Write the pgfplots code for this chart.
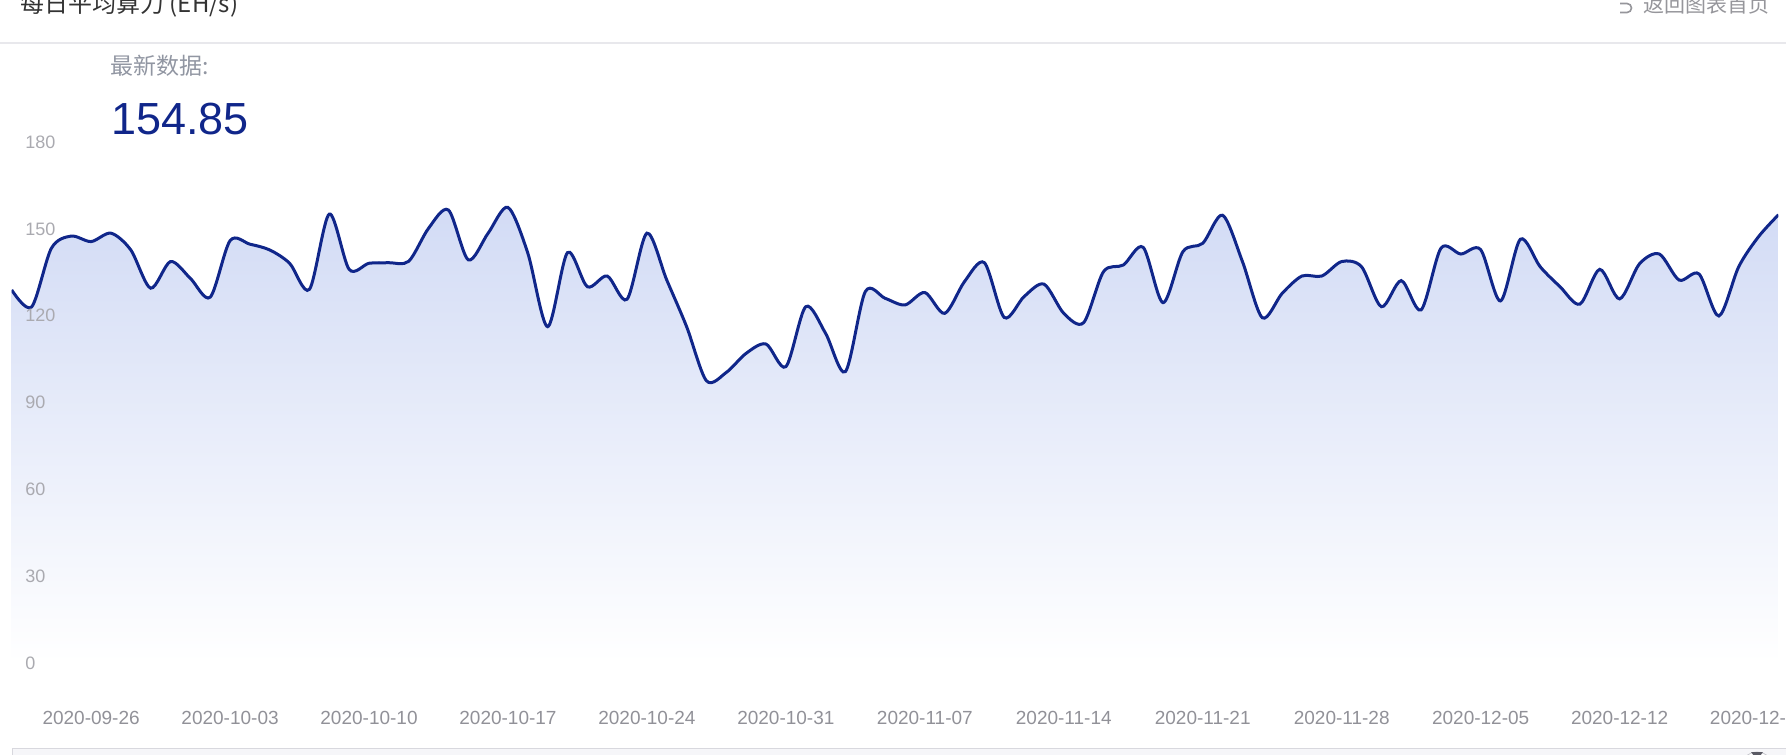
\documentclass[border=0pt]{standalone}
\usepackage{fontspec}
\setmainfont{Liberation Sans}
\newfontfamily\cjk{Noto Sans CJK SC}
\usepackage{pgfplots}
\pgfplotsset{compat=1.18}

\definecolor{linecol}{RGB}{16,38,138}
\definecolor{filltop}{RGB}{210,219,245}
\definecolor{ytickcol}{RGB}{170,170,176}
\definecolor{xtickcol}{RGB}{145,145,152}
\definecolor{subcol}{RGB}{145,150,162}
\definecolor{titlecol}{RGB}{51,51,51}
\definecolor{sepcol}{RGB}{232,232,236}
\definecolor{backcol}{RGB}{150,150,155}
\definecolor{zoomline}{RGB}{216,216,222}
\definecolor{zoomfill}{RGB}{246,246,249}
\definecolor{handleline}{RGB}{200,200,206}
\definecolor{handlemark}{RGB}{90,90,100}

% daily average hashrate, day 0 = 2020-09-26
\pgfplotstableread{
d v
-4 128.9
-3 123.0
-2 143.3
-1 147.5
0 145.6
1 148.5
2 142.7
3 129.5
4 138.7
5 132.9
6 126.4
7 145.9
8 144.7
9 142.7
10 138.1
11 129.1
12 155.1
13 136.0
14 138.1
15 138.3
16 138.8
17 150.2
18 156.5
19 139.3
20 148.5
21 157.4
22 141.6
23 116.2
24 141.8
25 130.0
26 133.7
27 125.7
28 148.5
29 132.3
30 116.2
31 97.5
32 100.4
33 107.0
34 110.2
35 102.4
36 123.1
37 113.9
38 100.7
39 128.3
40 126.0
41 123.7
42 128.0
43 120.8
44 131.8
45 138.3
46 119.4
47 126.6
48 130.9
49 120.8
50 117.6
51 135.2
52 137.5
53 143.6
54 124.5
55 142.1
56 145.0
57 154.7
58 138.7
59 119.3
60 127.7
61 133.7
62 133.7
63 138.7
64 136.9
65 123.1
66 132.1
67 122.0
68 143.3
69 141.3
70 142.8
71 125.1
72 146.4
73 136.9
74 130.0
75 124.0
76 136.0
77 125.8
78 137.9
79 141.3
80 132.3
81 134.4
82 119.9
83 136.9
84 147.3
85 154.85
}\hashdata

\begin{document}
\begin{tikzpicture}
  \begin{axis}[
      at={(5.85pt,-331.5pt)}, anchor=south west,
      scale only axis,
      width=883.35pt, height=260.5pt,
      xmin=-4, xmax=85, ymin=0, ymax=180,
      axis line style={draw=none},
      major tick length=0pt,
      xtick={0,7,...,84},
      xticklabels={2020-09-26,2020-10-03,2020-10-10,2020-10-17,2020-10-24,2020-10-31,2020-11-07,2020-11-14,2020-11-21,2020-11-28,2020-12-05,2020-12-12,2020-12-19},
      ytick={0,30,...,180},
      yticklabels={0,30,60,90,120,150,180},
      xticklabel style={font=\fontsize{9.5}{10}\selectfont, text=xtickcol,
        anchor=center, inner sep=0pt, yshift=-27.5pt},
      yticklabel style={font=\fontsize{9}{10}\selectfont, text=ytickcol,
        anchor=west, inner sep=0pt, xshift=6.65pt},
      axis on top,
    ]
    \addplot[draw=none, top color=filltop, bottom color=white, smooth]
      table[x=d, y=v] {\hashdata} \closedcycle;
    \addplot[linecol, line width=1.5pt, smooth] table[x=d, y=v] {\hashdata};
  \end{axis}

  % page decorations, in reference pixels (y downwards)
  \begin{scope}[x=0.5pt, y=-0.5pt]
    \node[anchor=base west, inner sep=0pt, text=titlecol,
      font=\cjk\fontsize{12}{14}\selectfont] at (20,12.5) {每日平均算力 (EH/s)};
    \node[anchor=base east, inner sep=0pt, text=backcol,
      font=\cjk\fontsize{10.5}{12}\selectfont] at (1770,12.5) {返回图表首页};
    \draw[backcol, line width=0.8pt] (1620,3.5) -- (1627,3.5)
      arc[start angle=-90, end angle=90, radius=4.5] -- (1620,12.5);
    \draw[sepcol, line width=1pt] (0,43) -- (1786,43);
    \node[anchor=base west, inner sep=0pt, text=subcol,
      font=\cjk\fontsize{11.5}{13}\selectfont] at (110,74.5) {最新数据:};
    \node[anchor=base west, inner sep=0pt, text=linecol,
      font=\fontsize{22.5}{26}\selectfont] at (111,135) {154.85};
    \draw[draw=zoomline, fill=zoomfill] (12,748) rectangle (1800,780);
    \draw[draw=handleline, fill=white] (1757,768) circle[radius=16];
    \fill[handlemark] (1751,752) -- (1763,752) -- (1757,760) -- cycle;
  \end{scope}

  \pgfresetboundingbox
  \path[use as bounding box] (0pt,0pt) rectangle (893pt,-377pt);
\end{tikzpicture}
\end{document}
